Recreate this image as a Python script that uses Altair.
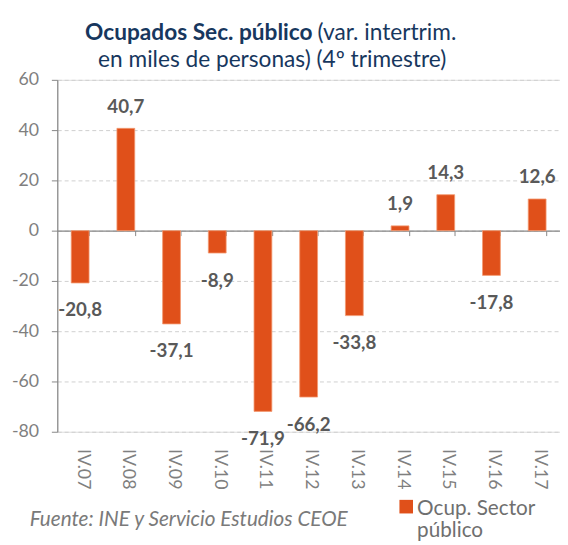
import altair as alt
import pandas as pd

categorias = ["IV.07", "IV.08", "IV.09", "IV.10", "IV.11", "IV.12",
              "IV.13", "IV.14", "IV.15", "IV.16", "IV.17"]
valores = [-20.8, 40.7, -37.1, -8.9, -71.9, -66.2, -33.8, 1.9, 14.3, -17.8, 12.6]
serie_lineas = ["Ocup. Sector", "público"]
y_ticks = [-80, -60, -40, -20, 0, 20, 40, 60]

titulo_negrita = "Ocupados Sec. público"
titulo_resto_1 = "(var. intertrim."
titulo_linea_2 = "en miles de personas) (4º trimestre)"
fuente = "Fuente: INE y Servicio Estudios CEOE"

df = pd.DataFrame({"cat": categorias, "v": valores})

FONT = "Lato"
BAR = "#E0501A"
AX = "#868686"

base = alt.Chart(df).transform_calculate(
    lab="(datum.v < 0 ? '-' : '') + replace(format(abs(datum.v), '.1f'), '.', ',')"
)

xenc = alt.X(
    "cat:N", sort=categorias, title=None,
    scale=alt.Scale(paddingInner=0.61, paddingOuter=0.305),
    axis=alt.Axis(
        orient="bottom", offset=-204, domainColor=AX, domainWidth=1.2,
        tickColor=AX, tickSize=5, tickBand="extent", labelAngle=90,
        labelAlign="left", labelBaseline="middle", labelPadding=216,
        labelOffset=2,
        labelFont=FONT, labelFontSize=18, labelColor="#7F7F7F",
        grid=False,
    ),
)
yenc = alt.Y(
    "v:Q", title=None,
    scale=alt.Scale(domain=[-80, 60], nice=False, zero=False),
    axis=alt.Axis(
        values=y_ticks, domainColor=AX, domainWidth=1.2, tickColor=AX,
        tickSize=6, labelPadding=13, labelFont=FONT, labelFontSize=18,
        labelColor="#7F7F7F", labelExpr="'' + datum.value",
        grid=True, gridColor="#CFCFCF", gridDash=[4, 3], gridWidth=1,
    ),
)

bars = base.mark_bar(color=BAR, stroke="#F39A72", strokeWidth=0.8).encode(
    x=xenc, y=yenc,
)

lab_pos = base.transform_filter("datum.v >= 0").mark_text(
    font=FONT, fontSize=19, fontWeight="bold", color="#595959",
    baseline="middle", dy=-22,
).encode(x=alt.X("cat:N", sort=categorias), y="v:Q", text="lab:N")

lab_neg = base.transform_filter("datum.v < 0").mark_text(
    font=FONT, fontSize=19, fontWeight="bold", color="#595959",
    baseline="middle", dy=28,
).encode(x=alt.X("cat:N", sort=categorias), y="v:Q", text="lab:N")

one = alt.Data(values=[{"a": 1}])
TCOL = "#17375E"
t1 = alt.Chart(one).mark_text(
    font=FONT, fontSize=23, fontWeight="bold", color=TCOL, align="right",
    baseline="alphabetic",
).encode(x=alt.value(259), y=alt.value(-40), text=alt.value(titulo_negrita))
t2 = alt.Chart(one).mark_text(
    font=FONT, fontSize=23, color=TCOL, align="left", baseline="alphabetic",
).encode(x=alt.value(264), y=alt.value(-40), text=alt.value(titulo_resto_1))
t3 = alt.Chart(one).mark_text(
    font=FONT, fontSize=23, color=TCOL, align="center", baseline="alphabetic",
).encode(x=alt.value(218), y=alt.value(-13), text=alt.value(titulo_linea_2))
foot = alt.Chart(one).mark_text(
    font=FONT, fontSize=21, fontStyle="italic", color="#7A7A7A",
    align="left", baseline="alphabetic",
).encode(x=alt.value(-28), y=alt.value(453), text=alt.value(fuente))

leg_sym = alt.Chart(one).mark_square(color=BAR, size=190, opacity=1).encode(
    x=alt.value(354), y=alt.value(433)
)
leg_txt = alt.Chart(one).mark_text(
    font=FONT, fontSize=21, color="#6F6F6F", align="left",
    baseline="alphabetic", lineHeight=23,
).encode(x=alt.value(365), y=alt.value(441), text=alt.value(serie_lineas))

chart = alt.layer(bars, lab_pos, lab_neg, t1, t2, t3, foot, leg_sym, leg_txt).properties(
    width=510, height=357,
    autosize=alt.AutoSizeParams(type="none"),
    padding={"left": 50, "top": 69, "right": 0, "bottom": 110},
).configure_view(stroke=None).configure(background="white")

chart.save("out.html", embed_options={"renderer": "svg", "actions": False})
